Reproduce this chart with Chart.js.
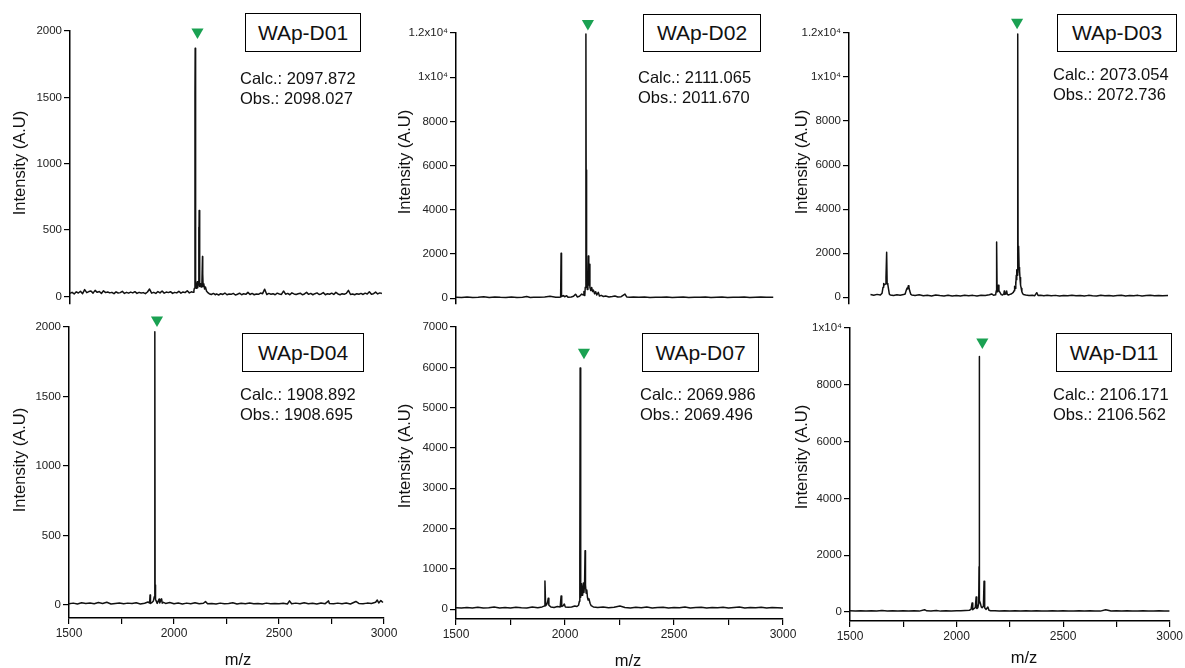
<!DOCTYPE html>
<html>
<head>
<meta charset="utf-8">
<title>MALDI-TOF spectra WAp-D series</title>
<script src="https://cdn.jsdelivr.net/npm/chart.js@4.4.1/dist/chart.umd.min.js"></script>
<style>
  body { margin: 0; background: #fff; }
  #wrap { position: relative; width: 1185px; height: 668px; overflow: hidden;
          font-family: "Liberation Sans", Arial, Helvetica, sans-serif; color: #111; }
  canvas { position: absolute; }
  .tag { position: absolute; border: 1.5px solid #000; box-sizing: border-box; font-size: 21px;
         display: flex; align-items: center; justify-content: center; background: #fff; }
  .mass { position: absolute; font-size: 16.5px; line-height: 20px; white-space: nowrap; }
  .ytitle { position: absolute; font-size: 16.5px; line-height: 18px; white-space: nowrap;
            transform: translate(-50%, -50%) rotate(-90deg); }
  .xtitle { position: absolute; font-size: 16.5px; line-height: 18px; white-space: nowrap;
            transform: translate(-50%, -50%); }
</style>
</head>
<body>
<div id="wrap"></div>
<script>
// ---- spectra (m/z, intensity) ----
const d01Mz = [
  1500,1510,1520,1530,1540,1550,1560,1570,1580,1590,
  1600,1610,1620,1630,1640,1650,1660,1670,1680,1690,
  1700,1710,1720,1730,1740,1750,1760,1770,1780,1790,
  1800,1810,1820,1830,1840,1850,1860,1870,1880,1890,
  1900,1910,1920,1930,1940,1950,1960,1970,1980,1990,
  2000,2010,2020,2030,2040,2050,2060,2070,2080,
  2088,2092,2094,2097,2098,2099,2101,2104,2106,2108,
  2110,2113,2115,2116,2117,2118,2121,2124,2127,2130,
  2133,2134,2136,2139,2143,2147,2152,2157,
  2165,2175,2185,2195,
  2200,2210,2220,2230,2240,2250,2260,2270,2280,2290,
  2300,2310,2320,2330,2340,2350,2360,2370,2380,2390,
  2400,2410,2420,2430,2440,2450,2460,2470,2480,2490,
  2500,2510,2520,2530,2540,2550,2560,2570,2580,2590,
  2600,2610,2620,2630,2640,2650,2660,2670,2680,2690,
  2700,2710,2720,2730,2740,2750,2760,2770,2780,2790,
  2800,2810,2820,2830,2840,2850,2860,2870,2880,2890,
  2900,2910,2920,2930,2940,2950,2960,2970,2980,2990
];
const d01Int = [
  22,30,18,34,25,38,20,51,28,36,
  40,24,45,30,36,22,42,28,33,26,
  30,20,34,25,28,38,22,30,24,32,
  26,35,22,30,25,28,20,33,55,24,
  30,22,36,26,40,24,32,28,35,22,
  30,26,38,24,33,28,42,26,34,
  30,45,60,1520,1870,420,95,60,85,110,
  65,90,520,200,647,130,75,95,70,85,
  300,170,75,95,55,70,40,30,
  20,14,22,12,
  18,10,20,14,25,12,18,15,22,10,
  16,24,12,20,15,30,14,22,12,18,
  15,25,20,54,14,22,16,20,12,24,
  18,14,40,16,22,12,26,18,14,20,
  24,12,18,30,15,22,12,20,26,14,
  18,28,12,20,16,24,14,30,18,12,
  20,16,22,45,14,18,12,20,16,22,
  14,24,18,35,16,20,32,18,26,22
];

const d02Mz = [
  1525,1550,1575,1600,1625,1650,1675,1700,1725,1750,
  1775,1800,1825,1844,1860,1875,1900,1925,1949,1975,
  1990,1997,1999,2001,2009,2015,2024,2030,2045,2055,
  2064,2068,2072,2082,2092,2098,2102,2106,2108,2111,
  2112,2114,2117,2120,2122,2124,2127,2129,2133,2137,
  2141,2145,2150,2155,2160,2167,2172,2180,2190,2200,
  2215,2230,2242,2255,2270,2287,2295,2310,2325,2350,
  2375,2400,2425,2450,2475,2500,2525,2550,2575,2600,
  2625,2650,2675,2700,2725,2750,2775,2800,2825,2850,
  2875,2900,2925,2956
];
const d02Int = [
  50,30,60,35,45,70,30,55,40,35,
  60,30,50,75,35,45,40,55,85,50,
  40,60,2030,80,120,70,110,50,60,90,
  176,130,60,90,190,150,300,120,500,11950,
  5800,900,400,700,1910,600,1540,500,350,485,
  300,366,200,295,150,264,100,130,80,100,
  60,75,100,55,70,190,60,45,55,40,
  60,35,50,40,55,30,45,60,35,50,
  40,55,30,45,60,35,50,40,55,35,
  45,60,40,50
];

const d03Mz = [
  1180,1200,1220,1240,1250,1256,1260,1264,1270,1274,
  1278,1281,1285,1290,1294,1300,1320,1340,1360,1380,
  1390,1396,1402,1406,1409,1413,1418,1424,1430,1450,
  1475,1500,1525,1550,1575,1600,1625,1650,1675,1700,
  1725,1750,1775,1800,1825,1850,1875,1900,1914,1925,
  1938,1942,1944,1947,1951,1954,1958,1966,1972,1980,
  1988,1990,1993,2000,2005,2008,2015,2025,2035,2045,
  2050,2053,2056,2059,2061,2063,2065,2067,2069,2071,
  2072.7,2074,2076,2077,2078.5,2080,2082,2084,2086,2088,
  2090,2093,2097,2102,2107,2120,2140,2160,2175,2187,
  2195,2210,2230,2250,2275,2300,2325,2350,2375,2400,
  2425,2450,2475,2500,2525,2550,2575,2600,2625,2650,
  2675,2700,2725,2750,2775,2800,2825,2850,2875,2900,
  2925,2950,2982
];
const d03Int = [
  120,90,130,100,180,450,620,560,600,900,
  2040,620,580,350,150,100,80,110,90,120,
  150,300,420,380,518,450,280,140,100,80,
  110,70,95,60,100,75,60,90,55,80,
  60,95,70,85,60,90,75,110,150,90,
  110,300,2513,250,400,547,300,200,120,100,
  160,280,130,150,280,140,100,130,160,220,
  300,500,400,700,550,1000,800,1250,1000,1600,
  11960,1700,1300,1500,2320,1350,1100,1200,800,900,
  550,400,250,160,120,100,80,90,70,207,
  80,95,70,90,65,85,60,80,70,90,
  65,80,60,85,70,60,90,65,80,60,
  75,90,60,80,70,85,60,75,90,65,
  80,70,75
];

const d04Mz = [
  1500,1520,1540,1560,1580,1600,1620,1640,1660,1680,
  1700,1720,1740,1760,1780,1800,1820,1840,1860,1876,
  1884,1886,1888,1896,1902,1906,1908.7,1910,1912,1915,
  1920,1929,1932,1941,1944,1950,1960,1980,2000,
  2020,2040,2060,2080,2100,2120,2140,2150,2160,2180,
  2200,2220,2240,2260,2280,2300,2320,2340,2360,2380,
  2400,2420,2440,2460,2480,2500,2520,2540,2550,2560,
  2580,2600,2620,2640,2660,2680,2700,2720,2736,2740,
  2760,2780,2800,2820,2840,2866,2880,2900,2920,2940,
  2960,2968,2975,2985,2995
];
const d04Int = [
  10,14,8,16,12,15,10,18,12,20,
  8,12,15,9,14,11,16,8,13,22,
  15,72,12,20,30,60,1965,144,40,30,
  12,43,15,45,14,20,12,18,10,
  15,8,14,10,16,9,13,25,10,12,
  8,14,9,12,16,8,13,10,15,9,
  12,8,14,10,12,9,13,8,30,10,
  14,9,16,10,13,8,15,10,30,12,
  9,14,10,15,8,26,12,10,14,12,
  20,36,15,32,18
];

const d07Mz = [
  1500,1525,1550,1575,1600,1625,1650,1675,1700,1725,
  1750,1775,1800,1825,1850,1875,1895,1904,1908,1911,
  1916,1920,1923,1926,1935,1950,1965,1978,1982,1985,
  1992,1997,2001,2015,2030,2045,2055,2062,2066,2068,
  2069.5,2072,2075,2078,2081,2084,2087,2090,2092,2094,
  2097,2100,2103,2106,2110,2115,2120,2130,2150,2175,
  2200,2225,2252,2275,2300,2325,2350,2375,2400,2425,
  2450,2475,2500,2525,2550,2575,2600,2625,2650,2675,
  2700,2725,2750,2775,2800,2825,2850,2875,2900,2925,
  2950,2975,3000
];
const d07Int = [
  40,30,45,35,50,30,40,55,35,45,
  30,50,40,35,55,40,60,80,700,90,
  120,180,272,100,60,45,70,60,330,70,
  90,131,60,50,60,80,70,100,200,1230,
  5985,300,640,350,500,650,420,700,1450,600,
  400,480,300,230,260,150,90,60,45,55,
  40,50,80,45,35,50,40,55,35,45,
  50,35,45,40,55,30,45,50,35,45,
  40,50,35,45,55,30,45,40,50,35,
  45,40,35
];

const d11Mz = [
  1500,1525,1550,1575,1600,1625,1650,1675,1700,1725,
  1750,1775,1800,1825,1850,1860,1880,1905,1925,1950,
  1975,2000,2020,2040,2060,2068,2073,2076,2082,2088,
  2092,2095,2100,2104,2105.5,2106.5,2108,2112,2116,2120,
  2126,2129,2132,2138,2147,2152,2160,2180,2200,2225,
  2250,2275,2300,2325,2350,2375,2400,2425,2450,2475,
  2500,2525,2550,2575,2600,2625,2650,2675,2700,2725,
  2750,2775,2800,2825,2850,2875,2900,2925,2950,2975,
  3000
];
const d11Int = [
  40,30,45,35,40,30,50,35,40,30,
  45,35,40,30,80,40,35,55,30,40,
  35,45,40,50,60,90,318,80,120,150,
  530,120,150,300,1590,9000,400,300,180,150,
  200,1083,150,90,176,60,45,40,35,45,
  30,40,35,45,30,40,35,30,45,35,
  40,30,35,45,30,40,35,30,80,35,
  40,30,45,35,30,40,35,30,40,35,
  30
];

// green arrow heads above the main peaks
const markerMz  = [2109, 2120, 2068, 1919, 2087, 2121];
const markerInt = [1993, 12430, 12488, 2050, 6373, 9506];

const sampleNames = ['WAp-D01', 'WAp-D02', 'WAp-D03', 'WAp-D04', 'WAp-D07', 'WAp-D11'];
const calcMass = ['2097.872', '2111.065', '2073.054', '1908.892', '2069.986', '2106.171'];
const obsMass  = ['2098.027', '2011.670', '2072.736', '1908.695', '2069.496', '2106.562'];

// ---- axis ticks ----
const yTicks2k  = [0, 500, 1000, 1500, 2000];
const yLabels2k = ['0', '500', '1000', '1500', '2000'];
const yTicks12k  = [0, 2000, 4000, 6000, 8000, 10000, 12000];
const yLabels12k = ['0', '2000', '4000', '6000', '8000', '1x10\u2074', '1.2x10\u2074'];
const yTicks7k  = [0, 1000, 2000, 3000, 4000, 5000, 6000, 7000];
const yLabels7k = ['0', '1000', '2000', '3000', '4000', '5000', '6000', '7000'];
const yTicks10k  = [0, 2000, 4000, 6000, 8000, 10000];
const yLabels10k = ['0', '2000', '4000', '6000', '8000', '1x10\u2074'];
const xTicks  = [1500, 1750, 2000, 2250, 2500, 2750, 3000];
const xLabels = ['1500', '', '2000', '', '2500', '', '3000'];

// ---- panel layout ----
const panels = [
  { mz: d01Mz, int: d01Int, xMin: 1500, xMax: 3000, yMin: -51,  yMax: 2000,  yTicks: yTicks2k,  yLabels: yLabels2k,
    area: [70, 31, 384, 310],   showX: false, tag: [245, 13, 116, 39],  mass: [240, 68],   yTitle: [19, 163] },
  { mz: d02Mz, int: d02Int, xMin: 1525, xMax: 3000, yMin: -220, yMax: 12000, yTicks: yTicks12k, yLabels: yLabels12k,
    area: [456, 33, 783, 310],  showX: false, tag: [643, 14, 118, 38],  mass: [638, 67],   yTitle: [404, 162] },
  { mz: d03Mz, int: d03Int, xMin: 1050, xMax: 3000, yMin: -266, yMax: 12000, yTicks: yTicks12k, yLabels: yLabels12k,
    area: [849, 33, 1171, 310], showX: false, tag: [1057, 14, 120, 38], mass: [1053, 64],  yTitle: [801, 162] },
  { mz: d04Mz, int: d04Int, xMin: 1500, xMax: 3000, yMin: -93,  yMax: 2000,  yTicks: yTicks2k,  yLabels: yLabels2k,
    area: [69, 327, 384, 618],  showX: true,  tag: [242, 333, 122, 39], mass: [240, 384],  yTitle: [19, 460],  xTitle: [238, 659] },
  { mz: d07Mz, int: d07Int, xMin: 1500, xMax: 3000, yMin: -240, yMax: 7000,  yTicks: yTicks7k,  yLabels: yLabels7k,
    area: [456, 327, 783, 619], showX: true,  tag: [642, 333, 117, 39], mass: [640, 384],  yTitle: [404, 456], xTitle: [628, 660] },
  { mz: d11Mz, int: d11Int, xMin: 1500, xMax: 3000, yMin: -318, yMax: 10000, yTicks: yTicks10k, yLabels: yLabels10k,
    area: [850, 328, 1171, 621], showX: true, tag: [1056, 333, 116, 39], mass: [1053, 384], yTitle: [801, 457], xTitle: [1024, 657] }
];

Chart.defaults.font.family = "'Liberation Sans', Arial, Helvetica, sans-serif";

const PAGE_W = 1185;
const Y_AXIS_W = 60;
const X_AXIS_H = 40;
const wrap = document.getElementById('wrap');

// downward triangle drawn at a data position, allowed to sit above the plot area
const arrowHeads = {
  id: 'arrowHeads',
  afterDatasetsDraw(chart, args, opts) {
    const { ctx, scales } = chart;
    const cx = scales.x.getPixelForValue(opts.mz);
    const cy = scales.y.getPixelForValue(opts.value);
    const r = 7;
    const half = r * Math.sin(Math.PI / 3);
    ctx.save();
    ctx.fillStyle = '#1aa152';
    ctx.beginPath();
    ctx.moveTo(cx, cy + r);
    ctx.lineTo(cx - half, cy - r / 2);
    ctx.lineTo(cx + half, cy - r / 2);
    ctx.closePath();
    ctx.fill();
    ctx.restore();
  }
};

function addDiv(cls, text, left, top) {
  const el = document.createElement('div');
  el.className = cls;
  el.textContent = text;
  el.style.left = left + 'px';
  el.style.top = top + 'px';
  wrap.appendChild(el);
  return el;
}

function axisStyle() {
  return {
    grid: { drawOnChartArea: false, color: '#000', lineWidth: 1.2, tickLength: 6 },
    border: { display: true, color: '#000', width: 1.5 }
  };
}

function buildPanel(p, i) {
  const [aL, aT, aR, aB] = p.area;
  const left = Math.max(0, aL - 70);
  const padLeft = aL - Y_AXIS_W - left;
  const padRight = Math.min(20, PAGE_W - aR);
  const xH = p.showX ? X_AXIS_H : 0;
  const width = padLeft + Y_AXIS_W + (aR - aL) + padRight;
  const height = 20 + (aB - aT) + xH + 2;

  const cv = document.createElement('canvas');
  cv.width = width;
  cv.height = height;
  cv.style.left = left + 'px';
  cv.style.top = (aT - 20) + 'px';
  cv.style.width = width + 'px';
  cv.style.height = height + 'px';
  wrap.appendChild(cv);

  new Chart(cv, {
    type: 'line',
    data: {
      datasets: [{
        data: p.mz.map((x, k) => ({ x: x, y: p.int[k] })),
        borderColor: '#111',
        borderWidth: 1.5,
        borderJoinStyle: 'round',
        pointRadius: 0,
        tension: 0
      }]
    },
    plugins: [arrowHeads],
    options: {
      responsive: false,
      animation: false,
      devicePixelRatio: 1,
      events: [],
      layout: { padding: { left: padLeft, right: padRight, top: 20, bottom: 2 } },
      plugins: {
        legend: { display: false },
        tooltip: { enabled: false },
        arrowHeads: { mz: markerMz[i], value: markerInt[i] }
      },
      scales: {
        x: Object.assign(axisStyle(), {
          type: 'linear',
          min: p.xMin,
          max: p.xMax,
          display: p.showX,
          afterBuildTicks: s => { s.ticks = xTicks.map(v => ({ value: v })); },
          afterFit: s => { s.height = p.showX ? X_AXIS_H : 0; },
          ticks: { autoSkip: false, maxRotation: 0, padding: 2, color: '#222', font: { size: 12 },
                   callback: (v, k) => xLabels[k] }
        }),
        y: Object.assign(axisStyle(), {
          type: 'linear',
          min: p.yMin,
          max: p.yMax,
          afterBuildTicks: s => { s.ticks = p.yTicks.map(v => ({ value: v })); },
          afterFit: s => { s.width = Y_AXIS_W; },
          ticks: { padding: 2, color: '#222', font: { size: 11.5 },
                   callback: (v, k) => p.yLabels[k] }
        })
      }
    }
  });
}

panels.forEach(buildPanel);

// sample tags, mass values and axis titles
panels.forEach((p, i) => {
  const tag = addDiv('tag', sampleNames[i], p.tag[0], p.tag[1]);
  tag.style.width = p.tag[2] + 'px';
  tag.style.height = p.tag[3] + 'px';
  const m = addDiv('mass', '', p.mass[0], p.mass[1]);
  m.innerHTML = 'Calc.: ' + calcMass[i] + '<br>Obs.: ' + obsMass[i];
  addDiv('ytitle', 'Intensity (A.U)', p.yTitle[0], p.yTitle[1]);
  if (p.xTitle) addDiv('xtitle', 'm/z', p.xTitle[0], p.xTitle[1]);
});
</script>
</body>
</html>
